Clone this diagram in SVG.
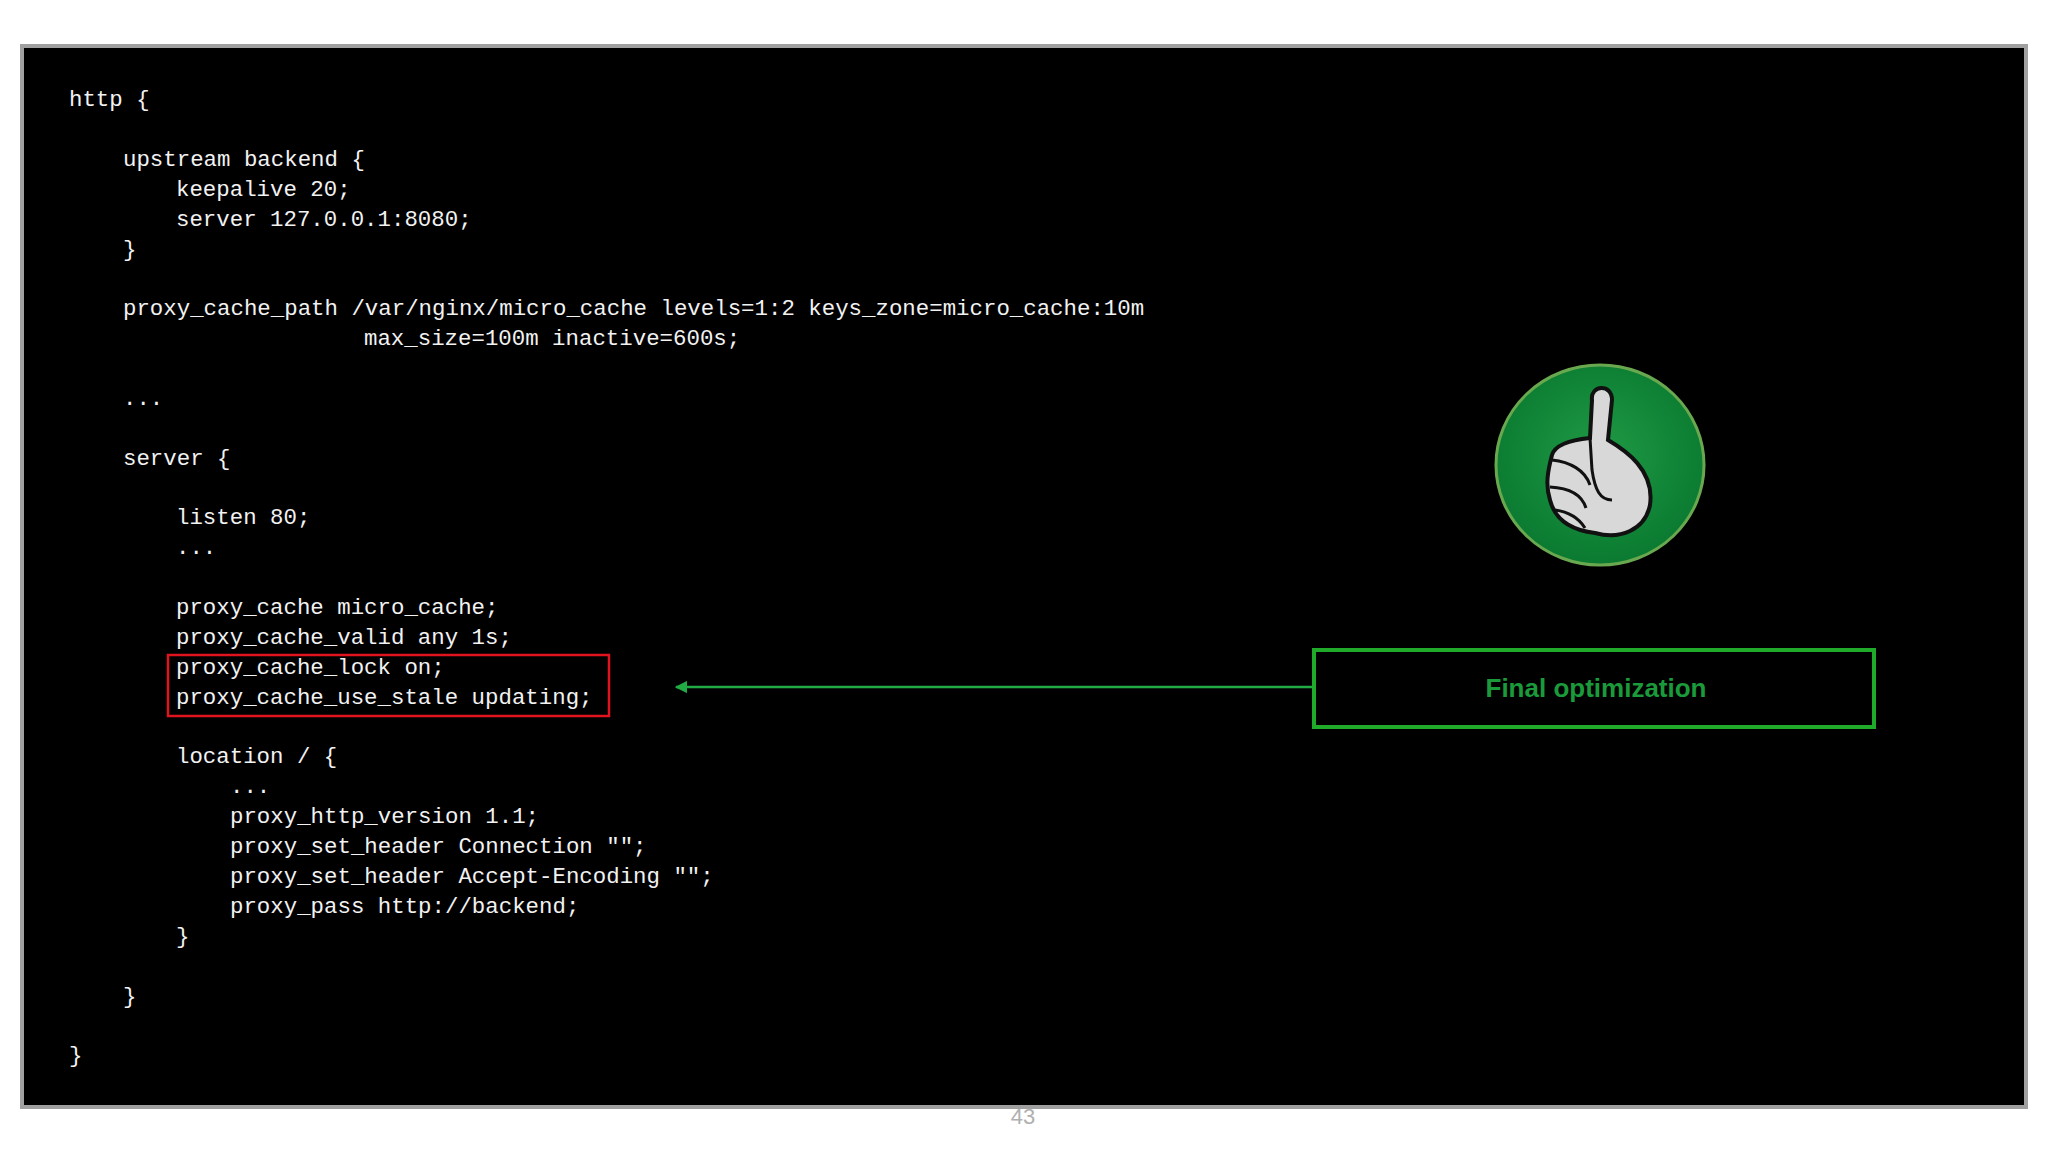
<svg xmlns="http://www.w3.org/2000/svg" width="2048" height="1152" viewBox="0 0 2048 1152">
<defs>
<style>
.code{font-family:"Liberation Mono","DejaVu Sans Mono",monospace;font-size:22.4px;fill:#f2f2f2;}
.lbl{font-family:"Liberation Sans",Arial,sans-serif;font-size:26px;font-weight:bold;fill:#1a9a3a;}
</style>
<radialGradient id="g" cx="50%" cy="45%" r="55%"><stop offset="0" stop-color="#1f9a45"/><stop offset="1" stop-color="#0a7a30"/></radialGradient>
<marker id="ah" viewBox="0 0 10 10" refX="9" refY="5" markerWidth="5" markerHeight="5" orient="auto"><path d="M0,0 L10,5 L0,10 z" fill="#22aa44"/></marker>
</defs>
<rect width="2048" height="1152" fill="#fff"/>
<rect x="22" y="46" width="2004" height="1061" fill="#000" stroke="#a0a0a0" stroke-width="4"/>
<g id="code">
<text class="code" x="69" y="106">http {</text>
<text class="code" x="123" y="166">upstream backend {</text>
<text class="code" x="176" y="196">keepalive 20;</text>
<text class="code" x="176" y="226">server 127.0.0.1:8080;</text>
<text class="code" x="123" y="256">}</text>
<text class="code" x="123" y="315">proxy_cache_path /var/nginx/micro_cache levels=1:2 keys_zone=micro_cache:10m</text>
<text class="code" x="364" y="345">max_size=100m inactive=600s;</text>
<text class="code" x="123" y="405">...</text>
<text class="code" x="123" y="465">server {</text>
<text class="code" x="176" y="524">listen 80;</text>
<text class="code" x="176" y="554">...</text>
<text class="code" x="176" y="614">proxy_cache micro_cache;</text>
<text class="code" x="176" y="644">proxy_cache_valid any 1s;</text>
<text class="code" x="176" y="674">proxy_cache_lock on;</text>
<text class="code" x="176" y="704">proxy_cache_use_stale updating;</text>
<text class="code" x="176" y="763">location / {</text>
<text class="code" x="230" y="793">...</text>
<text class="code" x="230" y="823">proxy_http_version 1.1;</text>
<text class="code" x="230" y="853">proxy_set_header Connection "";</text>
<text class="code" x="230" y="883">proxy_set_header Accept-Encoding "";</text>
<text class="code" x="230" y="913">proxy_pass http://backend;</text>
<text class="code" x="176" y="943">}</text>
<text class="code" x="123" y="1003">}</text>
<text class="code" x="69" y="1062">}</text>
</g>
<g id="highlight"><rect x="168" y="655" width="441" height="61" fill="none" stroke="#e0141e" stroke-width="2.5"/></g>
<g id="thumb">
<ellipse cx="1600" cy="465" rx="104" ry="100" fill="url(#g)" stroke="#6aa84f" stroke-width="3"/>
<path d="M1592,400 C1590,385 1612,383 1612,400 L1608,440 C1625,450 1655,470 1650,505 C1645,530 1620,540 1595,533 C1570,530 1555,520 1550,500 C1545,485 1548,470 1552,455 C1555,445 1570,440 1590,438 Z" fill="#d8d8d8" stroke="#111" stroke-width="4"/>
<path d="M1552,460 C1570,462 1585,470 1590,485 M1550,487 C1570,488 1582,495 1586,508 M1555,510 C1570,512 1580,520 1585,528 M1590,438 L1592,470 C1595,490 1600,500 1612,500" fill="none" stroke="#111" stroke-width="3"/>
</g>
<g id="connectors"><line x1="1313" y1="687" x2="676" y2="687" stroke="#22aa44" stroke-width="2.5" marker-end="url(#ah)"/></g>
<g id="final"><rect x="1314" y="650" width="560" height="77" fill="none" stroke="#1faa2a" stroke-width="4"/>
<text class="lbl" x="1596" y="697" text-anchor="middle">Final optimization</text></g>
<text x="1023" y="1124" text-anchor="middle" font-family="Liberation Sans,Arial,sans-serif" font-size="22" fill="#b0b0b0">43</text>
</svg>
